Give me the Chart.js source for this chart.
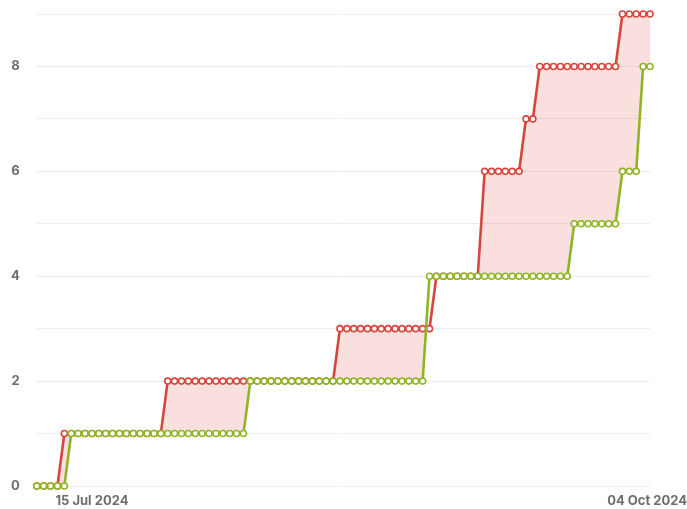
<!DOCTYPE html>
<html>
<head>
<meta charset="utf-8">
<script src="https://cdn.jsdelivr.net/npm/chart.js@4/dist/chart.umd.min.js"></script>
<style>
html,body{margin:0;padding:0;background:#fff;}
#wrap{width:687px;height:509px;position:relative;}
</style>
</head>
<body>
<div id="wrap"><canvas id="c" width="687" height="509"></canvas></div>
<script>
// Categories: one per day, 07 Jul 2024 .. 04 Oct 2024
const dates = [
"2024-07-07","2024-07-08","2024-07-09","2024-07-10","2024-07-11","2024-07-12","2024-07-13","2024-07-14","2024-07-15","2024-07-16",
"2024-07-17","2024-07-18","2024-07-19","2024-07-20","2024-07-21","2024-07-22","2024-07-23","2024-07-24","2024-07-25","2024-07-26",
"2024-07-27","2024-07-28","2024-07-29","2024-07-30","2024-07-31","2024-08-01","2024-08-02","2024-08-03","2024-08-04","2024-08-05",
"2024-08-06","2024-08-07","2024-08-08","2024-08-09","2024-08-10","2024-08-11","2024-08-12","2024-08-13","2024-08-14","2024-08-15",
"2024-08-16","2024-08-17","2024-08-18","2024-08-19","2024-08-20","2024-08-21","2024-08-22","2024-08-23","2024-08-24","2024-08-25",
"2024-08-26","2024-08-27","2024-08-28","2024-08-29","2024-08-30","2024-08-31","2024-09-01","2024-09-02","2024-09-03","2024-09-04",
"2024-09-05","2024-09-06","2024-09-07","2024-09-08","2024-09-09","2024-09-10","2024-09-11","2024-09-12","2024-09-13","2024-09-14",
"2024-09-15","2024-09-16","2024-09-17","2024-09-18","2024-09-19","2024-09-20","2024-09-21","2024-09-22","2024-09-23","2024-09-24",
"2024-09-25","2024-09-26","2024-09-27","2024-09-28","2024-09-29","2024-09-30","2024-10-01","2024-10-02","2024-10-03","2024-10-04"
];

// Red series (upper)
const redSeries = [
0,0,0,0,1,1,1,1,1,1,
1,1,1,1,1,1,1,1,1,2,
2,2,2,2,2,2,2,2,2,2,
2,2,2,2,2,2,2,2,2,2,
2,2,2,2,3,3,3,3,3,3,
3,3,3,3,3,3,3,3,4,4,
4,4,4,4,4,6,6,6,6,6,
6,7,7,8,8,8,8,8,8,8,
8,8,8,8,8,9,9,9,9,9
];

// Green series (lower)
const greenSeries = [
0,0,0,0,0,1,1,1,1,1,
1,1,1,1,1,1,1,1,1,1,
1,1,1,1,1,1,1,1,1,1,
1,2,2,2,2,2,2,2,2,2,
2,2,2,2,2,2,2,2,2,2,
2,2,2,2,2,2,2,4,4,4,
4,4,4,4,4,4,4,4,4,4,
4,4,4,4,4,4,4,4,5,5,
5,5,5,5,5,6,6,6,8,8
];

// X tick labels shown
const xTickDates = ["2024-07-15","2024-10-04"];
const xTickLabels = ["15 Jul 2024","04 Oct 2024"];
// Y tick labels shown
const yTickValues = [0,2,4,6,8];

const RED = '#d6463c';
const GREEN = '#8fb524';
const FILL = 'rgba(229,110,100,0.22)';
const FONT = '"Inter","Roboto","DejaVu Sans",sans-serif';

const xLabelPlugin = {
  id: 'xLabels',
  afterDraw(chart) {
    const ctx = chart.ctx;
    const xs = chart.scales.x;
    ctx.save();
    ctx.font = 'bold 13px ' + FONT;
    ctx.fillStyle = '#6e6e6e';
    ctx.textBaseline = 'middle';
    xTickDates.forEach((d, k) => {
      const idx = dates.indexOf(d);
      let px = xs.getPixelForValue(idx);
      const w = ctx.measureText(xTickLabels[k]).width;
      let left = px - w / 2;
      if (left + w > chart.width) left = chart.width - w;
      ctx.textAlign = 'left';
      ctx.fillText(xTickLabels[k], left, 501);
    });
    ctx.restore();
  }
};

new Chart(document.getElementById('c'), {
  type: 'line',
  data: {
    labels: dates,
    datasets: [
      {
        label: 'green',
        data: greenSeries,
        borderColor: GREEN,
        backgroundColor: GREEN,
        pointBackgroundColor: '#ffffff',
        pointBorderColor: GREEN,
        pointBorderWidth: 1.6,
        pointRadius: 3,
        borderWidth: 2.6,
        tension: 0,
        fill: false,
        clip: false
      },
      {
        label: 'red',
        data: redSeries,
        borderColor: RED,
        backgroundColor: FILL,
        pointBackgroundColor: '#ffffff',
        pointBorderColor: RED,
        pointBorderWidth: 1.6,
        pointRadius: 3,
        borderWidth: 2.6,
        tension: 0,
        fill: { target: '-1', above: FILL, below: 'rgba(0,0,0,0)' },
        clip: false
      }
    ]
  },
  options: {
    responsive: false,
    animation: false,
    events: [],
    layout: { padding: { left: 11, right: 37, top: 14, bottom: 23 } },
    plugins: {
      legend: { display: false },
      tooltip: { enabled: false },
      filler: { propagate: false }
    },
    scales: {
      x: {
        type: 'category',
        offset: false,
        grid: { display: false, drawTicks: false },
        border: { display: false },
        ticks: { display: false }
      },
      y: {
        min: 0,
        max: 9,
        grid: { color: '#ececec', lineWidth: 1, drawTicks: true, tickLength: 17, tickColor: 'rgba(0,0,0,0)' },
        border: { display: false },
        ticks: {
          stepSize: 1,
          padding: 0,
          color: '#6e6e6e',
          font: { family: FONT, size: 13, weight: 'bold' },
          callback: (v) => yTickValues.includes(v) ? String(v) : ''
        }
      }
    }
  },
  plugins: [xLabelPlugin]
});
</script>
</body>
</html>
